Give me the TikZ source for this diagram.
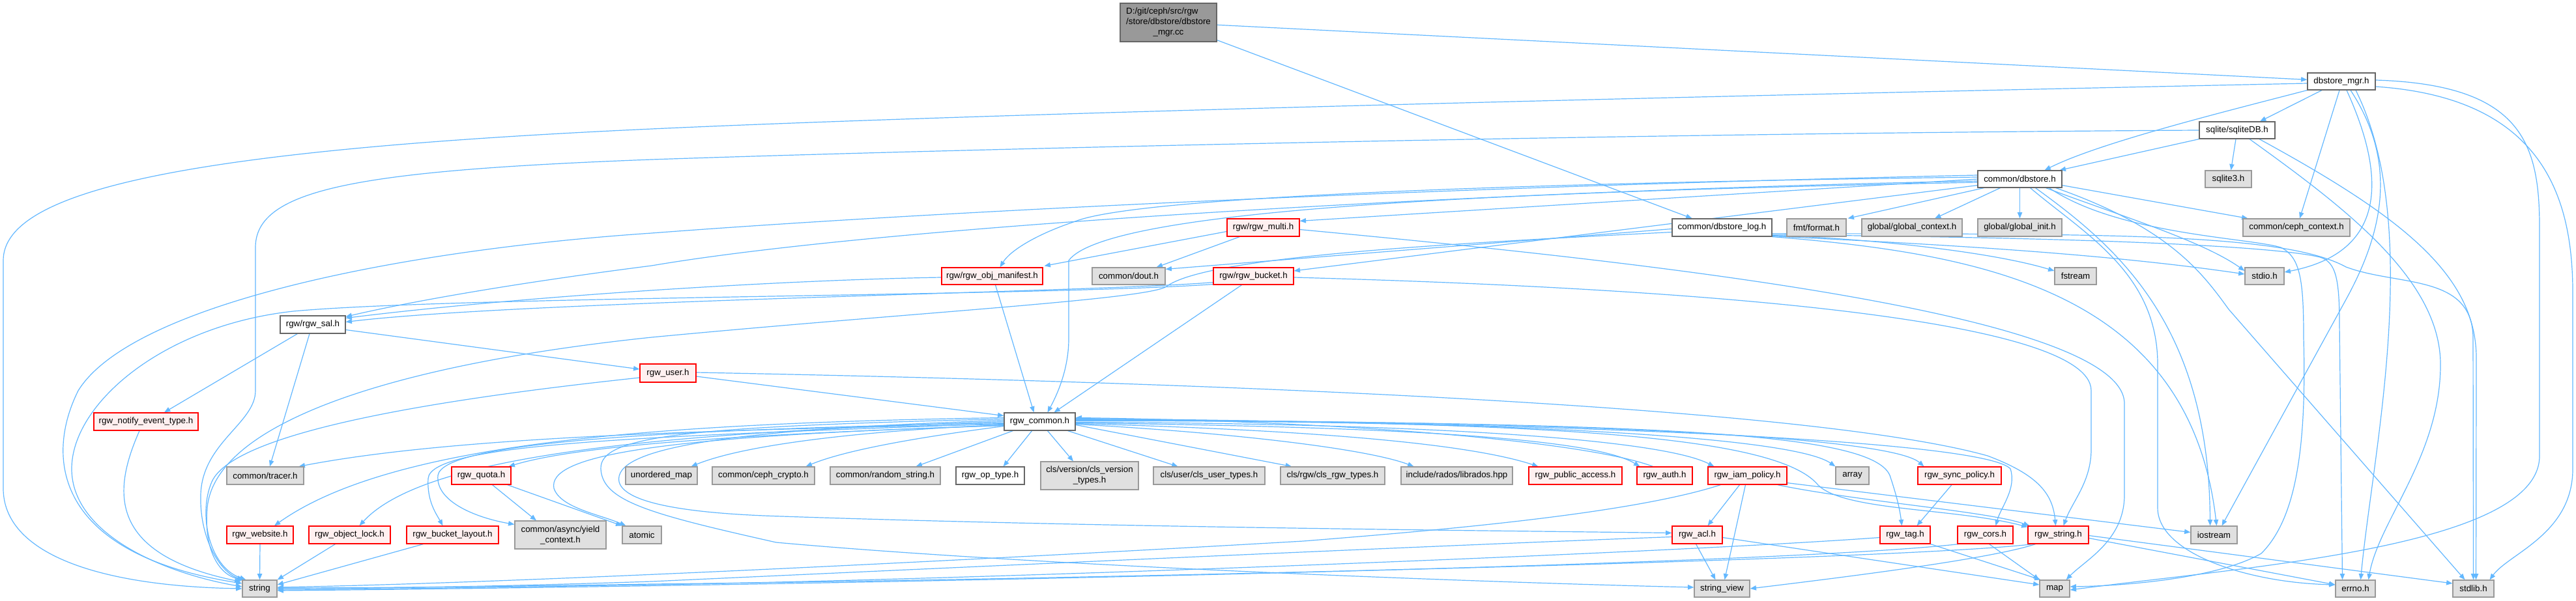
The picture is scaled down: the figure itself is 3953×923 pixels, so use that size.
\documentclass[tikz,border=0pt]{standalone}
\usepackage{fontspec}
\setmainfont{Liberation Sans}
\usetikzlibrary{arrows.meta,calc}
\pgfdeclarelayer{bg}
\pgfsetlayers{bg,main}
\definecolor{ec}{HTML}{63B8FF}
\definecolor{gf}{HTML}{E0E0E0}
\definecolor{gb}{HTML}{999999}
\definecolor{rf}{HTML}{FFF0F0}
\definecolor{wb}{HTML}{666666}
\newcommand\nb[7]{\node[#1,minimum width={(#5-#3)*0.75pt},minimum height={(#6-#4)*0.75pt}] (#2) at ({(#3+#5)/2},{(#4+#6)/2}) {#7};}
\begin{document}
\begin{tikzpicture}[x=0.75pt,y=-0.75pt,
 bx/.style={rectangle,inner sep=0pt,line width=0.9pt,font=\fontsize{10}{12}\selectfont,align=center},
 gn/.style={bx,fill=gf,draw=gb},
 rn/.style={bx,fill=rf,draw=red},
 wn/.style={bx,fill=white,draw=wb},
 mn/.style={bx,fill=gb,draw=wb},
 ed/.style={draw=ec,line width=0.9pt,-{Triangle[length=7pt,width=5.5pt]}}]
\useasboundingbox (0,0) rectangle (3953,923);
\nb{mn}{main}{1719}{5}{1867}{64}{\begin{tabular}{@{}l@{}}D:/git/ceph/src/rgw\\/store/dbstore/dbstore\\\multicolumn{1}{@{}c@{}}{\_mgr.cc}\end{tabular}}
\nb{wn}{dbmgr}{3541}{112}{3645}{138}{dbstore\_mgr.h}
\nb{wn}{sqlitedb}{3375}{187}{3491}{213}{sqlite/sqliteDB.h}
\nb{wn}{dbstore}{3035}{262}{3164}{288}{common/dbstore.h}
\nb{gn}{sqlite3}{3384}{262}{3455}{288}{sqlite3.h}
\nb{rn}{multi}{1883}{336}{1994}{363}{rgw/rgw\_multi.h}
\nb{wn}{dblog}{2566}{336}{2719}{363}{common/dbstore\_log.h}
\nb{gn}{fmt}{2742}{336}{2833}{363}{fmt/format.h}
\nb{gn}{gctx}{2857}{336}{3011}{363}{global/global\_context.h}
\nb{gn}{ginit}{3035}{336}{3164}{363}{global/global\_init.h}
\nb{gn}{cephctx}{3442}{336}{3606}{363}{common/ceph\_context.h}
\nb{rn}{manifest}{1445}{411}{1600}{437}{rgw/rgw\_obj\_manifest.h}
\nb{gn}{dout}{1676}{411}{1788}{437}{common/dout.h}
\nb{rn}{bucket}{1862}{411}{1985}{437}{rgw/rgw\_bucket.h}
\nb{gn}{fstream}{3153}{411}{3217}{437}{fstream}
\nb{gn}{stdio}{3445}{411}{3505}{437}{stdio.h}
\nb{wn}{sal}{430}{485}{530}{512}{rgw/rgw\_sal.h}
\nb{rn}{user}{982}{559}{1068}{587}{rgw\_user.h}
\nb{rn}{notify}{144}{634}{304}{661}{rgw\_notify\_event\_type.h}
\nb{wn}{common}{1541}{634}{1650}{661}{rgw\_common.h}
\nb{gn}{tracer}{348}{717}{466}{744}{common/tracer.h}
\nb{rn}{quota}{693}{717}{784}{744}{rgw\_quota.h}
\nb{gn}{umap}{960}{717}{1070}{744}{unordered\_map}
\nb{gn}{crypto}{1093}{717}{1250}{744}{common/ceph\_crypto.h}
\nb{gn}{random}{1274}{717}{1443}{744}{common/random\_string.h}
\nb{wn}{optype}{1467}{717}{1572}{744}{rgw\_op\_type.h}
\nb{gn}{clsver}{1597}{709}{1747}{752}{cls/version/cls\_version\\\_types.h}
\nb{gn}{clsuser}{1770}{717}{1941}{744}{cls/user/cls\_user\_types.h}
\nb{gn}{clsrgw}{1965}{717}{2125}{744}{cls/rgw/cls\_rgw\_types.h}
\nb{gn}{librados}{2150}{717}{2321}{744}{include/rados/librados.hpp}
\nb{rn}{pubacc}{2346}{717}{2489}{744}{rgw\_public\_access.h}
\nb{rn}{auth}{2512}{717}{2597}{744}{rgw\_auth.h}
\nb{rn}{iam}{2621}{717}{2742}{744}{rgw\_iam\_policy.h}
\nb{gn}{array}{2817}{717}{2868}{744}{array}
\nb{rn}{sync}{2943}{717}{3071}{744}{rgw\_sync\_policy.h}
\nb{rn}{website}{348}{808}{450}{835}{rgw\_website.h}
\nb{rn}{objlock}{474}{808}{599}{835}{rgw\_object\_lock.h}
\nb{rn}{layout}{624}{808}{765}{835}{rgw\_bucket\_layout.h}
\nb{gn}{yield}{790}{800}{930}{843}{common/async/yield\\\_context.h}
\nb{gn}{atomic}{955}{808}{1015}{835}{atomic}
\nb{rn}{acl}{2566}{808}{2643}{835}{rgw\_acl.h}
\nb{rn}{tag}{2885}{808}{2962}{835}{rgw\_tag.h}
\nb{rn}{cors}{3004}{808}{3089}{835}{rgw\_cors.h}
\nb{rn}{rstring}{3112}{808}{3205}{835}{rgw\_string.h}
\nb{gn}{iostream}{3362}{808}{3433}{835}{iostream}
\nb{gn}{string}{372}{891}{425}{917}{string}
\nb{gn}{strview}{2600}{891}{2685}{917}{string\_view}
\nb{gn}{map}{3130}{891}{3176}{917}{map}
\nb{gn}{errno}{3584}{891}{3645}{917}{errno.h}
\nb{gn}{stdlib}{3764}{891}{3827}{917}{stdlib.h}
\begin{pgfonlayer}{bg}
\fill[white] (0,0) rectangle (3953,923);
% main
\draw[ed] (main) -- (dbmgr);
\draw[ed] ($(main.south east)+(0,-3)$) -- ($(dblog.north)+(-46,0)$);
% dbstore_mgr.h
\draw[ed] ($(dbmgr.south)+(-30,0)$) -- ($(sqlitedb.north)+(35,0)$);
\draw[ed] (dbmgr.south west) .. controls (3400,175) and (3220,220) .. ($(dbstore.north)+(38,0)$);
\draw[ed] ($(dbmgr.south)+(-3,0)$) -- ($(cephctx.north)+(5,0)$);
\draw[ed] ($(dbmgr.south)+(8,0)$) .. controls (3670,290) and (3650,390) .. ($(stdio.east)+(0,-6)$);
\draw[ed] ($(dbmgr.south)+(14,0)$) .. controls (3680,250) and (3657,356) .. (3600,460) -- ($(iostream.north)+(12,0)$);
\draw[ed] ($(dbmgr.south)+(22,0)$) .. controls (3720,350) and (3640,700) .. ($(errno.north)+(8,0)$);
\draw[ed] ($(dbmgr.east)+(0,-2)$) .. controls (3870,130) and (3897,220) .. (3897,350) -- (3897,700) .. controls (3897,840) and (3450,870) .. ($(map.east)+(0,2)$);
\draw[ed] ($(dbmgr.east)+(0,8)$) .. controls (3900,150) and (3948,300) .. (3948,450) -- (3948,720) .. controls (3948,820) and (3850,850) .. ($(stdlib.north)+(25,0)$);
\draw[ed] ($(dbmgr.west)+(0,3)$) .. controls (2500,150) and (1500,175) .. (1000,198) .. controls (300,230) and (5,290) .. (5,400) -- (5,750) .. controls (5,850) and (150,900) .. (string.west);
% sqliteDB.h
\draw[ed] (sqlitedb.south west) -- ($(dbstore.north east)+(-4,0)$);
\draw[ed] ($(sqlitedb.south)+(-2,0)$) -- ($(sqlite3.north)+(4,0)$);
\draw[ed] ($(sqlitedb.south)+(19,0)$) .. controls (3600,320) and (3745,430) .. (3745,560) .. controls (3745,700) and (3650,800) .. ($(errno.north)+(20,0)$);
\draw[ed] ($(sqlitedb.south)+(34,0)$) .. controls (3680,330) and (3800,420) .. (3800,550) -- ($(stdlib.north)+(4,0)$);
\draw[ed] (sqlitedb.west) .. controls (2500,205) and (1500,228) .. (1000,245) .. controls (550,262) and (392,290) .. (392,380) -- (392,600) .. controls (392,650) and (310,680) .. (308,760) .. controls (306,830) and (340,880) .. ($(string.north west)+(2,0)$);
% dbstore.h
\draw[ed] ($(dbstore.south west)+(10,0)$) -- ($(fmt.north east)+(2,0)$);
\draw[ed] ($(dbstore.south)+(-30,0)$) -- ($(gctx.north)+(35,0)$);
\draw[ed] (dbstore.south) -- (ginit.north);
\draw[ed] ($(dbstore.south east)+(0,-4)$) -- ($(cephctx.north west)+(8,0)$);
\draw[ed] ($(dbstore.south)+(40,0)$) .. controls (3250,330) and (3380,370) .. ($(stdio.west)+(0,-8)$);
\draw[ed] ($(dbstore.south)+(24,0)$) .. controls (3250,380) and (3390,500) .. ($(iostream.north)+(-6,0)$);
\draw[ed] ($(dbstore.south)+(16,0)$) .. controls (3200,360) and (3311,420) .. (3311,560) -- (3311,780) .. controls (3311,850) and (3450,895) .. ($(errno.west)+(0,-6)$);
\draw[ed] ($(dbstore.south east)+(-10,0)$) .. controls (3330,350) and (3380,420) .. (3420,475) -- ($(stdlib.north)+(-13,0)$);
\draw[ed] ($(dbstore.south east)+(-20,0)$) .. controls (3250,360) and (3450,365) .. (3500,380) .. controls (3530,395) and (3535,430) .. (3535,520) .. controls (3540,700) and (3520,800) .. (3470,850) .. controls (3400,890) and (3250,900) .. ($(map.east)+(0,-3)$);
\draw[ed] (dbstore.west) -- ($(multi.north east)+(0,4)$);
\draw[ed] ($(dbstore.south west)+(0,-4)$) -- ($(bucket.east)+(0,-8)$);
\draw[ed] ($(dbstore.west)+(0,-3)$) .. controls (2400,280) and (1750,300) .. (1650,340) .. controls (1590,360) and (1550,385) .. ($(manifest.north)+(12,0)$);
\draw[ed] ($(dbstore.west)+(0,5)$) .. controls (2300,295) and (1700,320) .. (1640,400) -- (1640,520) .. controls (1640,570) and (1620,610) .. ($(common.north)+(12,0)$);
\draw[ed] ($(dbstore.west)+(0,-6)$) .. controls (2300,285) and (1500,320) .. (1000,358) .. controls (600,385) and (200,470) .. (120,600) .. controls (70,700) and (80,850) .. ($(string.west)+(0,-8)$);
\draw[ed] ($(dbstore.west)+(0,3)$) .. controls (2400,290) and (1400,340) .. (1000,408) .. controls (750,440) and (600,470) .. ($(sal.north east)+(0,2)$);
% dbstore_log.h
\draw[ed] ($(dblog.west)+(0,2)$) -- ($(dout.north east)+(0,3)$);
\draw[ed] ($(dblog.west)+(0,7)$) .. controls (2200,375) and (1850,395) .. (1790,440) .. controls (1760,460) and (1400,480) .. (1000,518) .. controls (600,560) and (330,650) .. (318,780) .. controls (312,850) and (340,885) .. ($(string.north west)+(4,0)$);
\draw[ed] ($(dblog.south east)+(0,-2)$) .. controls (2850,365) and (3050,385) .. ($(fstream.west)+(0,-8)$);
\draw[ed] ($(dblog.south east)+(0,-1)$) .. controls (2900,372) and (3200,385) .. ($(stdio.west)+(0,-3)$);
\draw[ed] (dblog.south east) .. controls (3050,390) and (3360,450) .. ($(iostream.north)+(4,0)$);
\draw[ed] ($(dblog.south east)+(0,-3)$) .. controls (3250,365) and (3500,380) .. (3560,395) .. controls (3585,402) and (3590,430) .. (3590,500) -- ($(errno.north)+(-20,0)$);
\draw[ed] ($(dblog.south east)+(0,-5)$) .. controls (3200,360) and (3500,355) .. (3600,410) .. controls (3680,440) and (3795,420) .. (3795,520) -- (stdlib.north);
% rgw_multi.h
\draw[ed] ($(multi.west)+(0,6)$) -- ($(manifest.north east)+(2,-2)$);
\draw[ed] ($(multi.south west)+(20,0)$) -- ($(dout.north east)+(-14,0)$);
\draw[ed] ($(multi.east)+(0,3)$) .. controls (2500,400) and (3260,480) .. (3260,620) -- (3260,760) .. controls (3260,830) and (3200,860) .. ($(map.north east)+(-6,0)$);
% rgw_obj_manifest.h
\draw[ed] ($(manifest.south)+(5,0)$) -- ($(common.north)+(-9,0)$);
\draw[ed] ($(manifest.west)+(0,2)$) .. controls (1200,430) and (800,455) .. ($(sal.east)+(0,-10)$);
% rgw_bucket.h
\draw[ed] ($(bucket.south)+(-18,0)$) -- ($(common.north)+(22,0)$);
\draw[ed] ($(bucket.south west)+(0,-4)$) .. controls (1700,448) and (800,462) .. ($(sal.east)+(0,-4)$);
\draw[ed] ($(bucket.south west)+(0,-1)$) .. controls (1600,455) and (700,455) .. (450,478) .. controls (250,500) and (110,620) .. (110,720) .. controls (110,820) and (250,880) .. ($(string.west)+(0,-3)$);
\draw[ed] ($(bucket.east)+(0,2)$) .. controls (2500,440) and (3209,480) .. (3209,600) -- (3209,690) .. controls (3209,740) and (3180,770) .. ($(rstring.north)+(8,0)$);
% rgw_sal.h
\draw[ed] ($(sal.east)+(0,8)$) -- ($(user.west)+(0,-6)$);
\draw[ed] ($(sal.south)+(-5,0)$) -- ($(tracer.north)+(7,0)$);
\draw[ed] ($(sal.south west)+(27,0)$) -- ($(notify.north)+(28,0)$);
% rgw_notify_event_type.h
\draw[ed] ($(notify.south)+(-10,0)$) .. controls (175,750) and (160,850) .. ($(string.north west)+(-2,3)$);
% rgw_user.h
\draw[ed] ($(user.east)+(0,5)$) -- ($(common.west)+(0,-9)$);
\draw[ed] ($(user.east)+(0,-1)$) .. controls (2000,590) and (2800,630) .. (3050,700) .. controls (3130,730) and (3150,760) .. ($(rstring.north)+(-4,0)$);
\draw[ed] ($(user.west)+(0,7)$) .. controls (700,610) and (360,660) .. (325,740) .. controls (304,788) and (320,870) .. ($(string.north west)+(6,0)$);
% rgw_common.h
\draw[ed] ($(common.west)+(0,4)$) .. controls (1100,660) and (700,670) .. ($(tracer.north east)+(-8,0)$);
\draw[ed] ($(common.west)+(0,6)$) .. controls (1200,665) and (900,680) .. ($(quota.north east)+(-4,0)$);
\draw[ed] ($(common.west)+(0,5)$) .. controls (1350,660) and (1150,680) .. ($(umap.north east)+(-10,0)$);
\draw[ed] ($(common.west)+(0,7)$) .. controls (1420,670) and (1300,690) .. ($(crypto.north east)+(-14,0)$);
\draw[ed] ($(common.south west)+(14,0)$) -- ($(random.north east)+(-38,0)$);
\draw[ed] ($(common.south)+(-12,0)$) -- ($(optype.north east)+(-33,0)$);
\draw[ed] ($(common.south)+(12,0)$) -- ($(clsver.north)+(-25,0)$);
\draw[ed] ($(common.south east)+(-12,0)$) -- ($(clsuser.north)+(-48,0)$);
\draw[ed] ($(common.east)+(0,5)$) -- ($(clsrgw.north)+(-63,0)$);
\draw[ed] ($(common.east)+(0,4)$) .. controls (1900,665) and (2100,690) .. ($(librados.north)+(-66,0)$);
\draw[ed] ($(common.east)+(0,3)$) .. controls (2000,660) and (2250,680) .. ($(pubacc.north)+(-57,0)$);
\draw[ed] ($(common.east)+(0,2)$) .. controls (2100,655) and (2440,670) .. ($(auth.north west)+(5,0)$);
\draw[ed] ($(auth.north)+(-18,0)$) .. controls (2440,680) and (2100,648) .. ($(common.east)+(0,-6)$);
\draw[ed] ($(common.east)+(0,1)$) .. controls (2200,650) and (2550,675) .. ($(iam.north west)+(10,0)$);
\draw[ed] ($(common.east)+(0,-1)$) .. controls (2300,645) and (2750,670) .. (array.north west);
\draw[ed] ($(common.east)+(0,-2)$) .. controls (2400,645) and (2900,670) .. ($(sync.north west)+(10,0)$);
\draw[ed] ($(common.east)+(0,-3)$) .. controls (2500,650) and (2870,660) .. (2900,730) .. controls (2910,760) and (2915,780) .. ($(tag.north)+(-5,0)$);
\draw[ed] ($(common.east)+(0,-4)$) .. controls (2500,650) and (3050,680) .. (3085,720) .. controls (3095,750) and (3070,780) .. ($(cors.north)+(16,0)$);
\draw[ed] ($(common.east)+(0,-5)$) .. controls (2300,650) and (2720,660) .. (2790,745) .. controls (2830,785) and (3000,780) .. ($(rstring.north west)+(0,2)$);
\draw[ed] ($(common.west)+(0,-2)$) .. controls (1100,660) and (940,690) .. (950,740) .. controls (960,780) and (1100,790) .. (1200,793) .. controls (1700,810) and (2300,815) .. ($(acl.west)+(0,-3)$);
\draw[ed] ($(common.west)+(0,-4)$) .. controls (1050,655) and (920,670) .. (922,720) .. controls (924,770) and (1000,790) .. (1191,833) .. controls (1600,870) and (2300,895) .. ($(strview.west)+(0,-2)$);
\draw[ed] ($(common.west)+(0,2)$) .. controls (1000,660) and (680,680) .. (672,730) .. controls (668,770) and (730,795) .. ($(yield.north west)+(0,6)$);
\draw[ed] ($(common.west)+(0,-6)$) .. controls (1000,650) and (600,680) .. ($(website.north)+(22,0)$);
\draw[ed] (common.west) .. controls (1000,665) and (650,700) .. ($(objlock.north)+(15,0)$);
\draw[ed] ($(common.west)+(0,3)$) .. controls (1000,670) and (660,680) .. (657,735) .. controls (655,770) and (670,790) .. ($(layout.north)+(-15,0)$);
\draw[ed] ($(common.west)+(0,6)$) .. controls (1000,670) and (840,700) .. (850,750) .. controls (860,780) and (920,790) .. ($(atomic.north west)+(6,0)$);
% rgw_quota.h
\draw[ed] ($(quota.south)+(17,0)$) -- ($(yield.north)+(-37,0)$);
\draw[ed] ($(quota.south east)+(-6,0)$) -- (atomic.north west);
% to string
\draw[ed] (website.south) -- (string.north);
\draw[ed] ($(objlock.south)+(-22,0)$) -- (string.north east);
\draw[ed] ($(layout.south)+(-45,0)$) -- ($(string.east)+(0,-6)$);
% rgw_iam_policy.h
\draw[ed] ($(iam.south)+(-12,0)$) -- ($(acl.north)+(16,0)$);
\draw[ed] ($(iam.south)+(-3,0)$) -- ($(strview.north)+(4,0)$);
\draw[ed] ($(iam.south west)+(20,0)$) .. controls (2500,790) and (2200,815) .. (2000,831) .. controls (1500,860) and (800,895) .. ($(string.east)+(0,-2)$);
\draw[ed] ($(iam.south east)+(0,-3)$) -- ($(iostream.west)+(0,-4)$);
\draw[ed] ($(iam.south east)+(-15,0)$) .. controls (2850,770) and (3050,785) .. ($(rstring.north west)+(3,0)$);
% rgw_acl.h
\draw[ed] ($(acl.south)+(-2,0)$) -- ($(strview.north)+(-10,0)$);
\draw[ed] ($(acl.east)+(0,4)$) -- ($(map.west)+(0,-6)$);
\draw[ed] ($(acl.west)+(0,3)$) .. controls (2200,838) and (1500,870) .. (1000,893) .. controls (700,903) and (500,904) .. (string.east);
% rgw_tag.h
\draw[ed] (tag.south east) -- ($(map.north west)+(2,0)$);
\draw[ed] ($(tag.west)+(0,4)$) .. controls (2550,850) and (1500,890) .. (1000,898) .. controls (700,903) and (500,906) .. ($(string.east)+(0,2)$);
% rgw_sync_policy.h
\draw[ed] ($(sync.south)+(-12,0)$) -- ($(tag.north)+(18,0)$);
% rgw_cors.h
\draw[ed] ($(cors.south)+(6,0)$) -- (map.north west);
\draw[ed] ($(cors.south west)+(2,0)$) .. controls (2700,870) and (1200,900) .. ($(string.east)+(0,3)$);
% rgw_string.h
\draw[ed] ($(rstring.east)+(0,5)$) -- ($(errno.west)+(0,-6)$);
\draw[ed] ($(rstring.east)+(0,1)$) -- ($(stdlib.west)+(0,-8)$);
\draw[ed] ($(rstring.south)+(-35,0)$) .. controls (3050,860) and (2800,890) .. (strview.east);
\draw[ed] ($(rstring.south west)+(8,0)$) .. controls (2900,862) and (1500,892) .. (1000,897) .. controls (700,902) and (500,903) .. ($(string.east)+(0,-1)$);
\end{pgfonlayer}
\end{tikzpicture}
\end{document}
